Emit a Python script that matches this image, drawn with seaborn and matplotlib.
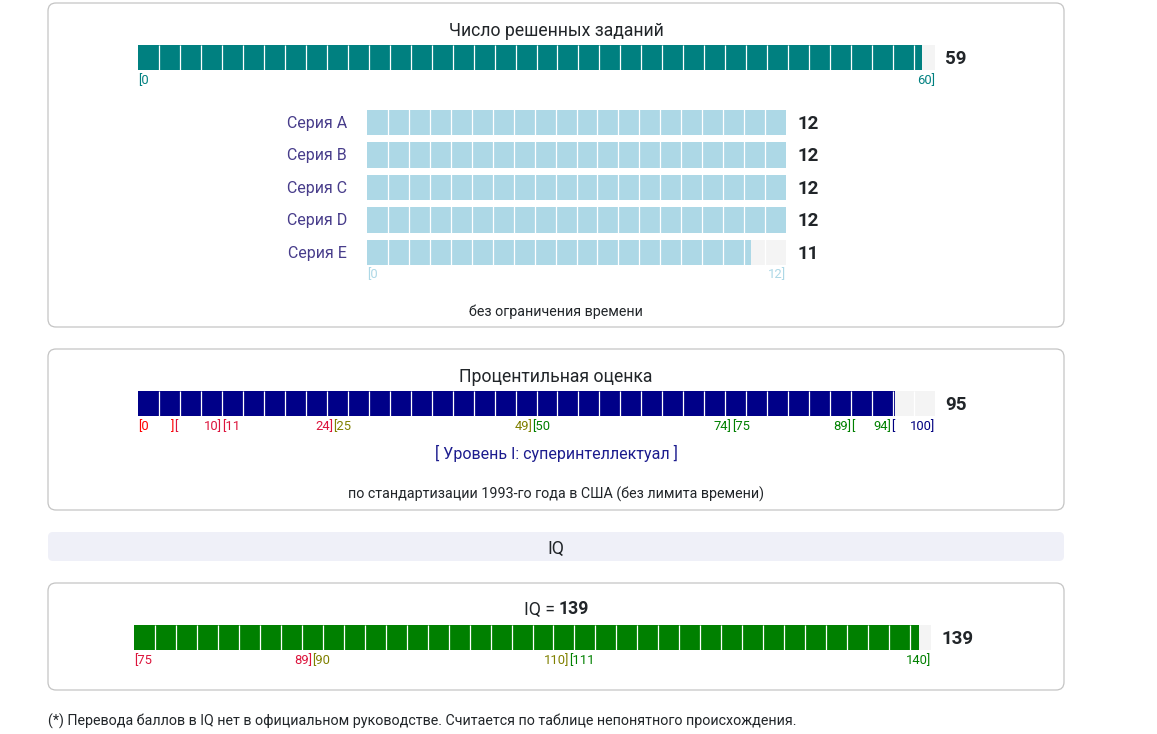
import matplotlib
matplotlib.use("Agg")
import matplotlib.pyplot as plt
import seaborn as sns
from matplotlib.patches import FancyBboxPatch

# ---- data ----
solved_total = 59
solved_max = 60

series_names = ['Серия A', 'Серия B', 'Серия C', 'Серия D', 'Серия E']
series_scores = [12, 12, 12, 12, 11]
series_max = 12

percentile = 95
pct_bins_lo = [0, 5, 11, 25, 50, 75, 90, 95]
pct_bins_hi = [4, 10, 24, 49, 74, 89, 94, 100]
pct_show_lo = [True, False, True, True, True, True, False, False]
pct_show_hi = [False, True, True, True, True, True, True, True]
pct_colors = ['#ff0000', '#dc143c', '#dc143c', '#808000', '#008000', '#008000', '#008000', '#000080']
level_text = '[ Уровень I: суперинтеллектуал ]'

iq_value = 139
iq_min, iq_max = 75, 140
iq_bins_lo = [75, 90, 111]
iq_bins_hi = [89, 110, 140]
iq_colors = ['#dc143c', '#808000', '#008000']

footer = ('(*) Перевода баллов в IQ нет в официальном руководстве. '
          'Считается по таблице непонятного происхождения.')

# ---- style ----
sns.set_style("white")
plt.rcParams['font.family'] = ['Roboto', 'DejaVu Sans']

W, H = 1157, 734
TRACK = '#f4f4f4'
TEXT = '#212529'
fig = plt.figure(figsize=(W / 100, H / 100), dpi=100)

# background axes in pixel units for boxes and free text
bg = fig.add_axes([0, 0, 1, 1])
bg.set_xlim(0, W)
bg.set_ylim(H, 0)
bg.axis('off')


def panel(y0, y1, fill='white', edge='#c4c4c4', r=8):
    bg.add_patch(FancyBboxPatch((48, y0), 1016, y1 - y0,
                                boxstyle=f"round,pad=0,rounding_size={r}",
                                fc=fill, ec=edge, lw=0.9))


def label(x, y, text, **kw):
    kw.setdefault('va', 'center')
    kw.setdefault('color', TEXT)
    bg.text(x, y + 1.5, text, **kw)


def meter(x0, y0, x1, y1, value, lo, hi, color, ncells=38):
    ax = fig.add_axes([x0 / W, 1 - y1 / H, (x1 - x0) / W, (y1 - y0) / H])
    sns.barplot(x=[hi], y=['v'], orient='h', color=TRACK, width=1,
                saturation=1, linewidth=0, errorbar=None, ax=ax)
    sns.barplot(x=[value], y=['v'], orient='h', color=color, width=1,
                saturation=1, linewidth=0, errorbar=None, ax=ax)
    ax.set_xlim(lo, hi)
    ax.set_ylim(0.5, -0.5)
    ax.axis('off')
    step = (hi - lo) / ncells
    ax.vlines([lo + k * step for k in range(1, ncells)], 0, 1,
              transform=ax.get_xaxis_transform(), colors='white', lw=0.9)
    ax.annotate(f"{value}", xy=(1, 0.5), xycoords='axes fraction',
                xytext=(7.5, -1.4), textcoords='offset points', ha='left', va='center',
                fontsize=13.5, fontweight='bold', color=TEXT)
    return ax


def range_label(ax, x, text, color, ha, y=0):
    ax.annotate(text, xy=(x, y), xycoords=('data', 'axes fraction'),
                xytext=(0, -7.6), textcoords='offset points', ha=ha, va='center',
                fontsize=9.4, color=color)


# ---- panel 1: solved tasks ----
panel(3, 327)
label(556, 30, 'Число решенных заданий', ha='center', fontsize=12.7)
ax1 = meter(138, 45, 935, 70, solved_total, 0, solved_max, '#008080')
range_label(ax1, 0, '[0', '#008080', 'left')
range_label(ax1, solved_max, f'{solved_max}]', '#008080', 'right')

# series rows
ax2 = fig.add_axes([367 / W, 1 - 268.75 / H, (786 - 367) / W, (268.75 - 106.25) / H])
sns.barplot(x=[series_max] * len(series_names), y=series_names, orient='h', color=TRACK,
            width=0.77, saturation=1, linewidth=0, errorbar=None, ax=ax2)
sns.barplot(x=series_scores, y=series_names, orient='h', color='#add8e6',
            width=0.77, saturation=1, linewidth=0, errorbar=None, ax=ax2)
ax2.set_xlim(0, series_max)
ax2.set_ylim(len(series_names) - 0.5, -0.5)
ax2.axis('off')
step = series_max / 20
ax2.vlines([k * step for k in range(1, 20)], 0, 1,
           transform=ax2.get_xaxis_transform(), colors='white', lw=0.9)
for i, (name, score) in enumerate(zip(series_names, series_scores)):
    ax2.annotate(name, xy=(0, i), xycoords=('axes fraction', 'data'), xytext=(-14.5, -0.6),
                 textcoords='offset points', ha='right', va='center', fontsize=11.5, color='#483d8b')
    ax2.annotate(f"{score}", xy=(1, i), xycoords=('axes fraction', 'data'), xytext=(8, -0.8),
                 textcoords='offset points', ha='left', va='center', fontsize=13.5,
                 fontweight='bold', color=TEXT)
bottom = (len(series_names) - 1 + 0.385)
ax2.annotate('[0', xy=(0, bottom), xycoords='data', xytext=(0, -7.2), textcoords='offset points',
             ha='left', va='center', fontsize=9.4, color='#add8e6')
ax2.annotate(f'{series_max}]', xy=(series_max, bottom), xycoords='data', xytext=(0, -7.2),
             textcoords='offset points', ha='right', va='center', fontsize=9.4, color='#add8e6')
label(556, 310, 'без ограничения времени', ha='center', fontsize=10.3)

# ---- panel 2: percentile ----
panel(349, 510)
label(556, 376, 'Процентильная оценка', ha='center', fontsize=12.7)
ax3 = meter(138, 391, 935, 416, percentile, 0, 100, '#000088')
for i, (lo, hi) in enumerate(zip(pct_bins_lo, pct_bins_hi)):
    left = 0 if i == 0 else (pct_bins_hi[i - 1] + lo) / 2
    right = 100 if i == len(pct_bins_lo) - 1 else (hi + pct_bins_lo[i + 1]) / 2
    range_label(ax3, left, '[' + (str(lo) if pct_show_lo[i] else ''), pct_colors[i], 'left')
    range_label(ax3, right, (str(hi) if pct_show_hi[i] else '') + ']', pct_colors[i], 'right')
label(556, 452, level_text, ha='center', fontsize=11.5, color='#1c1c8e')
label(556, 493, 'по стандартизации 1993-го года в США (без лимита времени)',
      ha='center', fontsize=10.3)

# ---- IQ header ----
panel(532, 561, fill='#eff0f8', edge='none', r=5)
label(556, 547, 'IQ', ha='center', fontsize=12.7)

# ---- panel 3: IQ ----
panel(583, 690)
label(555, 608, 'IQ =', ha='right', fontsize=12.7)
label(559, 608, f'{iq_value}', ha='left', fontsize=12.7, fontweight='bold')
ax4 = meter(134, 625, 931, 650, iq_value, iq_min, iq_max, '#008000')
for i, (lo, hi) in enumerate(zip(iq_bins_lo, iq_bins_hi)):
    left = iq_min if i == 0 else (iq_bins_hi[i - 1] + lo) / 2
    right = iq_max if i == len(iq_bins_lo) - 1 else (hi + iq_bins_lo[i + 1]) / 2
    range_label(ax4, left, f'[{lo}', iq_colors[i], 'left')
    range_label(ax4, right, f'{hi}]', iq_colors[i], 'right')

label(48, 720, footer, ha='left', fontsize=10.3)

fig.savefig('out.png', dpi=100)
